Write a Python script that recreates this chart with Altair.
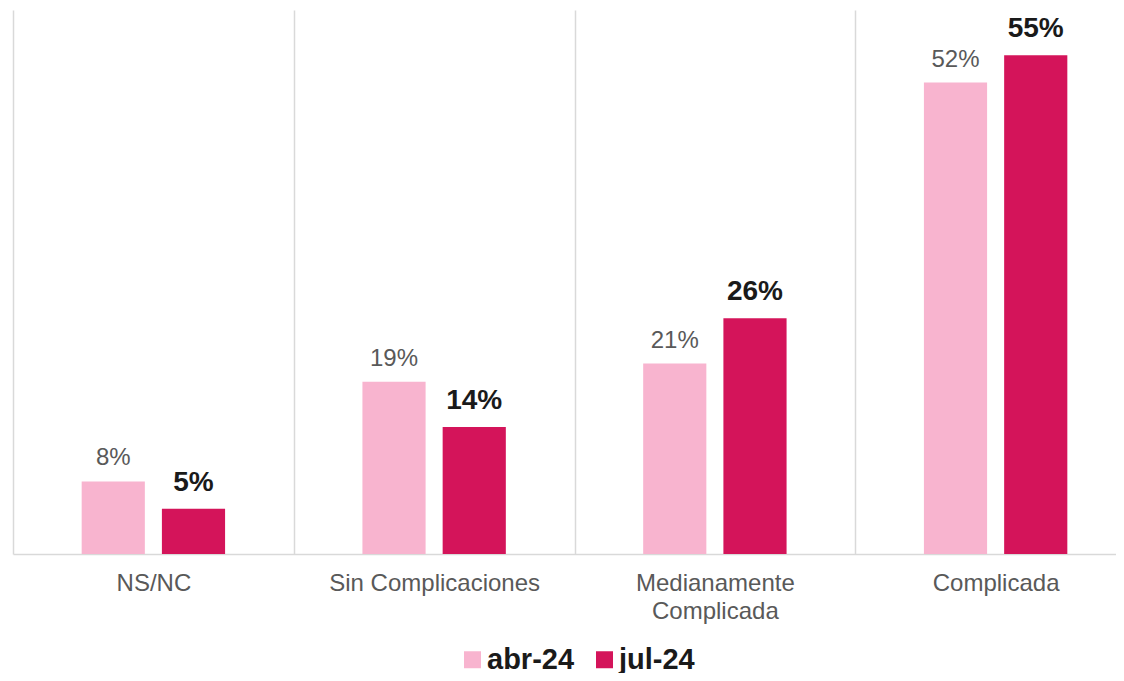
import altair as alt
import pandas as pd

categories = ["NS/NC", "Sin Complicaciones", "Medianamente Complicada", "Complicada"]
series = ["abr-24", "jul-24"]
abr_values = [8, 19, 21, 52]
jul_values = [5, 14, 26, 55]
colors = ["#F8B4CF", "#D4145A"]

rows = []
for c, a, j in zip(categories, abr_values, jul_values):
    rows.append({"cat": c, "serie": series[0], "val": a, "label": f"{a}%"})
    rows.append({"cat": c, "serie": series[1], "val": j, "label": f"{j}%"})
df = pd.DataFrame(rows)

FONT = "Liberation Sans"

x_enc = alt.X(
    "cat:N", sort=categories, title=None,
    scale=alt.Scale(paddingInner=0, paddingOuter=0),
    axis=alt.Axis(
        grid=True, tickBand="extent", gridColor="#d9d9d9", gridWidth=1.5,
        ticks=False, domainColor="#d9d9d9", domainWidth=1.5, labelAngle=0,
        labelFont=FONT, labelFontSize=24, labelColor="#595959", labelPadding=17,
        labelLineHeight=28, labelBaseline="top", labelLimit=0,
        labelExpr="datum.value == 'Medianamente Complicada' ? ['Medianamente', 'Complicada'] : datum.value",
    ),
)
xo_enc = alt.XOffset("serie:N", sort=series, scale=alt.Scale(paddingInner=0.2125, paddingOuter=0.856))
y_enc = alt.Y("val:Q", scale=alt.Scale(domain=[0, 60]), axis=None)

base = alt.Chart(df)

bars = base.mark_bar().encode(
    x=x_enc, xOffset=xo_enc, y=y_enc,
    color=alt.Color(
        "serie:N", sort=series,
        scale=alt.Scale(domain=series, range=colors),
        legend=alt.Legend(
            orient="none", legendX=445, legendY=635, direction="horizontal", title=None,
            symbolType="square", symbolSize=289, symbolStrokeWidth=0,
            labelFont=FONT, labelFontSize=29, labelFontWeight="bold",
            labelColor="#1a1a1a", columnPadding=15, labelOffset=0,
        ),
    ),
)

txt_a = base.transform_filter(alt.datum.serie == series[0]).mark_text(
    font=FONT, fontSize=24, color="#595959", baseline="alphabetic", dy=-16
).encode(x=x_enc, xOffset=xo_enc, y=y_enc, text="label:N")

txt_j = base.transform_filter(alt.datum.serie == series[1]).mark_text(
    font=FONT, fontSize=28, fontWeight="bold", color="#1a1a1a", baseline="alphabetic", dy=-18
).encode(x=x_enc, xOffset=xo_enc, y=y_enc, text="label:N")

chart = alt.layer(bars, txt_a, txt_j).properties(
    width=1123, height=544,
    padding={"left": 5, "top": 2, "right": -20, "bottom": 119},
    autosize=alt.AutoSizeParams(type="none"),
).configure_view(stroke=None)

chart.save("out.html", embed_options={"renderer": "svg", "actions": False})
